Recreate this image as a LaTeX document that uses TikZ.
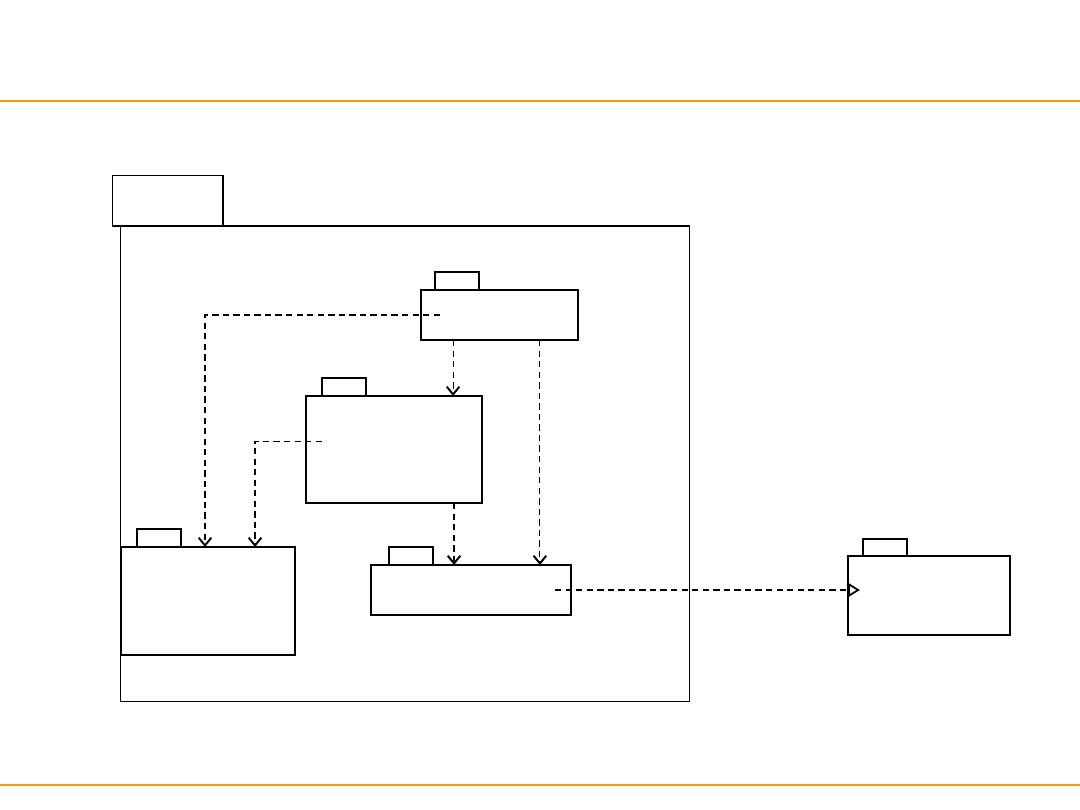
\documentclass[tikz,border=0pt]{standalone}
\usepackage{xcolor}
\usepackage{tikz}
\usetikzlibrary{positioning,arrows.meta}

\definecolor{rulebar}{RGB}{255,153,0}

\begin{document}
\begin{tikzpicture}[
  x=0.025cm, y=-0.025cm,
  body/.style={rectangle, draw=black, fill=white, line width=0.8pt, inner sep=0pt, outer sep=0pt},
  tab/.style={body, minimum width=1.1cm, minimum height=0.45cm, anchor=south west},
  dep/.style={line width=0.8pt, dash pattern=on 4.5pt off 3pt, -{Straight Barb[length=5.5pt, width=9pt, line width=1.4pt]}},
  real/.style={line width=0.8pt, dash pattern=on 4.5pt off 3pt, -{Triangle[open, length=8.5pt, width=10pt, line width=1.3pt]}},
  bar/.style={draw=rulebar, line width=1.4pt}
]
\useasboundingbox (0,0) rectangle (1080,810);

% Title bars
\coordinate (barTL) at (0,101);
\coordinate (barTR) at (1080,101);
\coordinate (barBL) at (0,785);
\coordinate (barBR) at (1080,785);
\draw[bar] (barTL) -- (barTR);
\draw[bar] (barBL) -- (barBR);

% Outer package
\node[body, minimum width=14.2cm, minimum height=11.875cm] (pkgOuter) at (405,463.5) {};
\node[tab, minimum width=2.75cm, minimum height=1.25cm] (tabOuter) at ([xshift=-0.2cm]pkgOuter.north west) {};

% Inner packages
\node[body, minimum width=3.925cm, minimum height=1.25cm] (pkgA) at (499.5,315) {};
\node[tab] (tabA) at ([xshift=0.35cm]pkgA.north west) {};

\node[body, line width=1pt, minimum width=4.4cm, minimum height=2.675cm] (pkgB) at (394,449.5) {};
\node[tab] (tabB) at ([xshift=0.4cm]pkgB.north west) {};

\node[body, line width=1.2pt, minimum width=4.35cm, minimum height=2.7cm] (pkgC) at (208,601) {};
\node[tab] (tabC) at ([xshift=0.4cm]pkgC.north west) {};

\node[body, line width=1pt, minimum width=5cm, minimum height=1.25cm] (pkgD) at (471,590) {};
\node[tab] (tabD) at ([xshift=0.45cm]pkgD.north west) {};

% Outside package
\node[body, line width=0.9pt, minimum width=4.05cm, minimum height=1.975cm] (pkgE) at (929,595.5) {};
\node[tab, minimum height=0.425cm] (tabE) at ([xshift=0.375cm]pkgE.north west) {};

% Dependencies
\draw[dep] ([xshift=0.475cm]pkgA.west) -| ([xshift=-0.075cm]pkgC.north);
\draw[dep] ([xshift=-1.16cm]pkgA.south) -- ([xshift=-1.16cm]pkgA.south |- pkgB.north);
\draw[dep] ([xshift=1.01cm]pkgA.south) -- ([xshift=1.01cm]pkgA.south |- pkgD.north);
\draw[dep] ([xshift=0.4cm, yshift=0.21cm]pkgB.west) -| ([xshift=1.175cm]pkgC.north);
\draw[dep] ([xshift=1.5cm]pkgB.south) -- ([xshift=1.5cm]pkgB.south |- pkgD.north);
\draw[real] ([xshift=-0.4cm]pkgD.east) -- ([xshift=0.3cm]pkgD.east -| pkgE.west);
\end{tikzpicture}
\end{document}
